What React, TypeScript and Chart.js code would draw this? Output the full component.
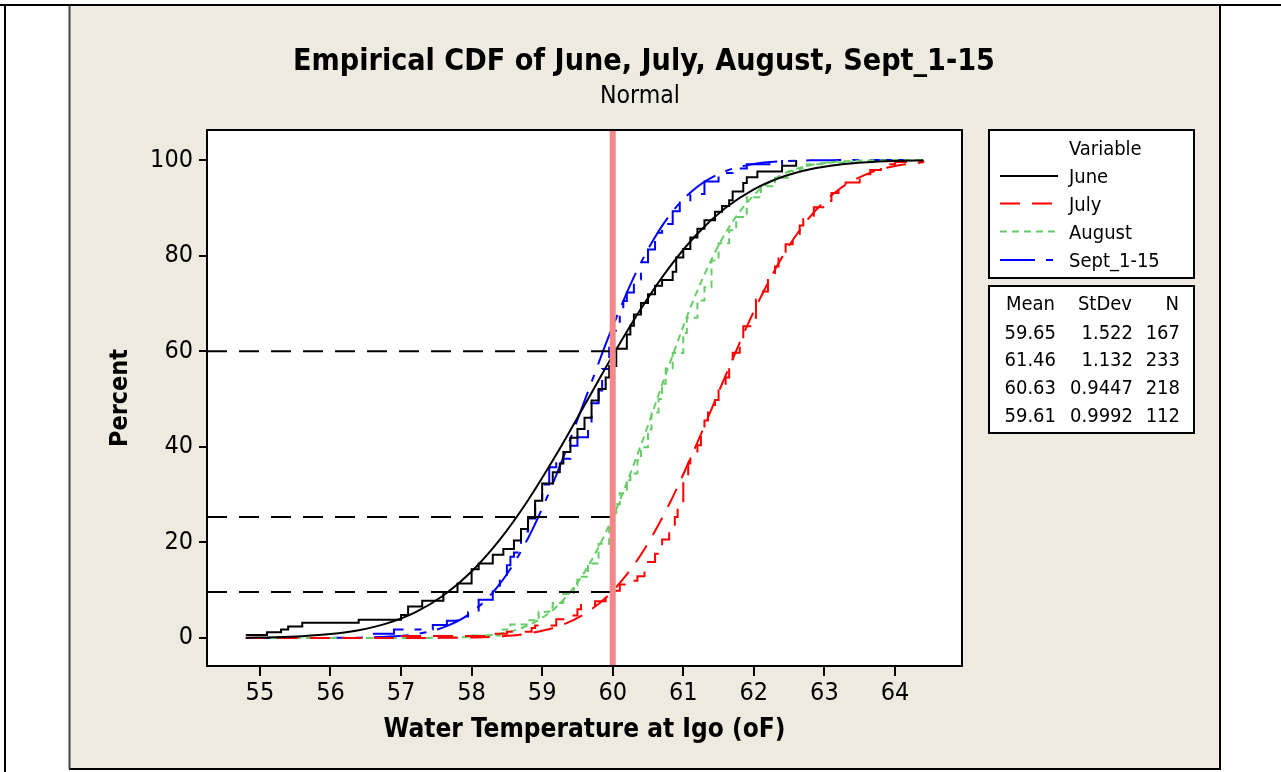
import React, { useEffect, useRef } from "react";
import { Chart, registerables } from "chart.js";

Chart.register(...registerables);

// ---------- data ----------
const xTicks = [55, 56, 57, 58, 59, 60, 61, 62, 63, 64];
const yTicks = [0, 20, 40, 60, 80, 100];
const xMin = 54.25;
const xMax = 64.95;
const yMin = -5.86;
const yMax = 106.28;

const seriesNames = ["June", "July", "August", "Sept_1-15"];
const statMean = ["59.65", "61.46", "60.63", "59.61"];
const statSd = ["1.522", "1.132", "0.9447", "0.9992"];
const statN = ["167", "233", "218", "112"];

// fitted normal CDF, read at these temperatures (percent)
const fitX = [54.8, 55.2, 55.6, 56.0, 56.4, 56.8, 57.2, 57.6, 58.0, 58.4, 58.8, 59.2, 59.6, 60.0, 60.4, 60.8, 61.2, 61.6, 62.0, 62.4, 62.8, 63.2, 63.6, 64.0, 64.4];
const juneFit = [0.07, 0.17, 0.39, 0.82, 1.64, 3.06, 5.37, 8.9, 13.92, 20.58, 28.83, 38.37, 48.69, 59.1, 68.89, 77.5, 84.58, 90.0, 93.87, 96.46, 98.08, 99.02, 99.53, 99.79, 99.91];
const julyFit = [0, 0, 0, 0, 0, 0, 0.01, 0.03, 0.11, 0.34, 0.94, 2.3, 5.02, 9.85, 17.45, 27.99, 40.92, 54.92, 68.33, 79.67, 88.18, 93.79, 97.06, 98.76, 99.53];
const augustFit = [0, 0, 0, 0, 0, 0, 0.01, 0.07, 0.27, 0.91, 2.64, 6.5, 13.78, 25.24, 40.38, 57.14, 72.69, 84.77, 92.65, 96.95, 98.92, 99.67, 99.92, 99.98, 100];
const septFit = [0, 0, 0, 0.02, 0.07, 0.25, 0.79, 2.21, 5.36, 11.3, 20.88, 34.08, 49.6, 65.18, 78.54, 88.32, 94.42, 97.68, 99.16, 99.74, 99.93, 99.98, 100, 100, 100];

// empirical CDF steps: [temperature, cumulative percent]
const juneSteps: [number, number][] = [
  [54.8, 0.6], [55.1, 1.2], [55.3, 1.8], [55.4, 2.4], [55.6, 3.2], [56.4, 3.8], [57.0, 4.8], [57.1, 6.6], [57.3, 7.8],
  [57.6, 9.6], [57.8, 11.4], [58.0, 14.4], [58.1, 15.6], [58.3, 17.4], [58.45, 18.6], [58.6, 20.4], [58.7, 22.8],
  [58.8, 25.1], [58.9, 28.7], [59.0, 32.3], [59.15, 34.7], [59.25, 36.5], [59.3, 38.9], [59.4, 41.9], [59.5, 43.7],
  [59.6, 46.1], [59.7, 49.7], [59.8, 52.1], [59.9, 54.5], [59.95, 56.9], [60.05, 60.5], [60.2, 63.5], [60.25, 65.3],
  [60.3, 67.7], [60.4, 70.1], [60.5, 71.9], [60.6, 73.7], [60.7, 74.9], [60.85, 76.6], [60.9, 79.6], [61.0, 81.4],
  [61.1, 83.8], [61.2, 85.6], [61.3, 87.4], [61.45, 89.2], [61.55, 90.4], [61.65, 91.6], [61.7, 93.4], [61.85, 95.2],
  [61.9, 96.4], [62.05, 97.6], [62.4, 98.8], [62.6, 100],
];
const julySteps: [number, number][] = [
  [57.0, 0.4], [58.25, 0.9], [58.5, 1.3], [58.85, 2.1], [58.9, 2.6], [59.2, 3.9], [59.3, 4.7], [59.5, 6.0], [59.55, 6.9],
  [59.75, 7.7], [59.9, 9.0], [60.0, 9.9], [60.1, 11.2], [60.17, 12.0], [60.35, 12.9], [60.45, 14.2], [60.5, 15.9],
  [60.6, 17.6], [60.7, 20.6], [60.8, 22.3], [60.88, 25.3], [60.92, 28.3], [61.0, 33.5], [61.07, 36.5], [61.1, 38.6],
  [61.2, 40.3], [61.25, 43.3], [61.3, 45.5], [61.35, 47.2], [61.45, 49.8], [61.5, 52.4], [61.6, 54.5], [61.65, 57.1],
  [61.7, 59.7], [61.8, 61.8], [61.85, 65.2], [62.0, 67.0], [62.03, 70.8], [62.13, 72.5], [62.2, 75.5], [62.3, 77.7],
  [62.35, 80.3], [62.45, 82.4], [62.55, 84.5], [62.65, 86.3], [62.7, 88.0], [62.85, 90.1], [63.0, 91.4], [63.1, 93.1],
  [63.2, 94.4], [63.3, 95.3], [63.5, 97.0], [63.65, 97.9], [63.8, 99.1], [64.0, 99.6], [64.4, 100],
];
const augustSteps: [number, number][] = [
  [58.0, 0.5], [58.4, 1.8], [58.55, 2.8], [58.8, 3.7], [58.95, 5.5], [59.1, 6.4], [59.15, 7.3], [59.3, 9.2], [59.45, 11.0],
  [59.5, 12.8], [59.65, 15.6], [59.8, 19.7], [59.95, 23.4], [60.0, 26.1], [60.05, 28.0], [60.1, 30.3], [60.2, 33.0],
  [60.25, 34.4], [60.35, 37.2], [60.4, 39.9], [60.5, 43.6], [60.55, 47.2], [60.65, 50.0], [60.7, 53.2], [60.75, 56.4],
  [60.85, 59.6], [61.0, 63.8], [61.05, 67.0], [61.2, 70.6], [61.3, 73.4], [61.4, 79.0], [61.5, 82.6], [61.65, 85.3],
  [61.75, 88.1], [61.9, 92.2], [62.1, 94.5], [62.3, 96.3], [62.5, 97.7], [62.65, 98.2], [62.75, 99.1], [63.0, 99.5],
  [63.4, 100],
];
const septSteps: [number, number][] = [
  [56.6, 0.9], [56.9, 1.8], [57.45, 2.7], [57.65, 3.6], [57.8, 4.5], [57.95, 5.4], [58.1, 8.0], [58.3, 9.8], [58.4, 12.5],
  [58.5, 15.2], [58.55, 17.0], [58.6, 17.9], [58.7, 22.3], [58.8, 25.0], [58.9, 28.6], [59.0, 32.1], [59.1, 35.7],
  [59.2, 37.5], [59.4, 40.2], [59.5, 42.0], [59.65, 43.8], [59.7, 49.1], [59.8, 51.8], [59.85, 56.3], [59.95, 60.7],
  [60.0, 64.3], [60.1, 67.9], [60.15, 70.5], [60.2, 72.3], [60.3, 75.0], [60.4, 78.6], [60.5, 81.3], [60.6, 84.8],
  [60.7, 86.6], [60.85, 89.3], [60.95, 91.1], [61.1, 92.9], [61.3, 95.5], [61.5, 97.3], [61.7, 98.2], [61.9, 99.1],
  [62.4, 100],
];

const refTemp = 60;
const refLevels = [60, 25.3, 9.6];

// ---------- styles ----------
const W = 1281;
const H = 772;
const FONT = "'DejaVu Sans Condensed', 'DejaVu Sans', sans-serif";
const BEIGE = "#EEEAE0";
const colors = ["#000000", "#FF0000", "#66CC66", "#0000FF"];
const dashes: number[][] = [[], [20, 12], [7, 5], [35, 11, 7, 11]];

const fits = [juneFit, julyFit, augustFit, septFit];
const steps = [juneSteps, julySteps, augustSteps, septSteps];

function capText(ctx: CanvasRenderingContext2D, text: string, x: number, cy: number, align: CanvasTextAlign) {
  const cap = ctx.measureText("H").actualBoundingBoxAscent;
  ctx.textAlign = align;
  ctx.textBaseline = "alphabetic";
  ctx.fillText(text, x, cy + cap / 2);
}

function fitFont(ctx: CanvasRenderingContext2D, text: string, weight: string, width: number) {
  ctx.font = `${weight} 100px ${FONT}`;
  const w = ctx.measureText(text).width;
  const size = (100 * width) / w;
  ctx.font = `${weight} ${size.toFixed(2)}px ${FONT}`;
}

const decorPlugin = {
  id: "decor",
  beforeDraw(chart: any) {
    const ctx: CanvasRenderingContext2D = chart.ctx;
    const a = chart.chartArea;
    ctx.save();
    ctx.fillStyle = "#FFFFFF";
    ctx.fillRect(0, 0, W, H);
    ctx.fillStyle = BEIGE;
    ctx.fillRect(70, 6, 1150, 763);
    ctx.strokeStyle = "#000";
    ctx.lineWidth = 2;
    ctx.beginPath();
    ctx.moveTo(0, 5); ctx.lineTo(W, 5);
    ctx.moveTo(5, 4); ctx.lineTo(5, H);
    ctx.moveTo(1220, 4); ctx.lineTo(1220, 770);
    ctx.moveTo(69, 769); ctx.lineTo(1221, 769);
    ctx.stroke();
    ctx.strokeStyle = "#444";
    ctx.beginPath();
    ctx.moveTo(69.5, 6); ctx.lineTo(69.5, 769);
    ctx.stroke();
    ctx.fillStyle = "#FFFFFF";
    ctx.fillRect(a.left, a.top, a.right - a.left, a.bottom - a.top);
    ctx.restore();
  },
  afterDraw(chart: any) {
    const ctx: CanvasRenderingContext2D = chart.ctx;
    const a = chart.chartArea;
    ctx.save();
    // plot frame
    ctx.strokeStyle = "#000";
    ctx.lineWidth = 2;
    ctx.setLineDash([]);
    ctx.strokeRect(a.left, a.top, a.right - a.left, a.bottom - a.top);

    // titles
    ctx.fillStyle = "#000";
    fitFont(ctx, "Empirical CDF of June, July, August, Sept_1-15", "bold", 702);
    capText(ctx, "Empirical CDF of June, July, August, Sept_1-15", 644, 59, "center");
    fitFont(ctx, "Normal", "normal", 80);
    capText(ctx, "Normal", 640, 94, "center");
    fitFont(ctx, "Water Temperature at Igo (oF)", "bold", 402);
    capText(ctx, "Water Temperature at Igo (oF)", (a.left + a.right) / 2, 727, "center");
    fitFont(ctx, "Percent", "bold", 98);
    ctx.save();
    ctx.translate(118, (a.top + a.bottom) / 2);
    ctx.rotate(-Math.PI / 2);
    capText(ctx, "Percent", 0, 0, "center");
    ctx.restore();

    // legend box
    ctx.fillStyle = "#FFF";
    ctx.fillRect(989, 130, 205, 148);
    ctx.strokeRect(989, 130, 205, 148);
    ctx.fillRect(989, 286, 205, 147);
    ctx.strokeRect(989, 286, 205, 147);
    ctx.fillStyle = "#000";
    ctx.font = `20px ${FONT}`;
    capText(ctx, "Variable", 1069, 148, "left");
    const rows = [176, 203.5, 231.5, 260];
    seriesNames.forEach((name, i) => {
      ctx.strokeStyle = colors[i];
      ctx.setLineDash(dashes[i]);
      ctx.lineWidth = 2;
      ctx.beginPath();
      ctx.moveTo(1000, rows[i]);
      ctx.lineTo(1058, rows[i]);
      ctx.stroke();
      ctx.setLineDash([]);
      ctx.fillStyle = "#000";
      capText(ctx, name, 1069, rows[i], "left");
    });
    // stats
    capText(ctx, "Mean", 1055, 303, "right");
    capText(ctx, "StDev", 1132, 303, "right");
    capText(ctx, "N", 1179, 303, "right");
    const srows = [331.5, 359.3, 386.7, 415];
    statMean.forEach((m, i) => {
      capText(ctx, m, 1056, srows[i], "right");
      capText(ctx, statSd[i], 1133, srows[i], "right");
      capText(ctx, statN[i], 1180, srows[i], "right");
    });
    ctx.restore();
  },
};

function buildDatasets() {
  const ds: any[] = [];
  ds.push({
    data: [{ x: refTemp, y: yMin }, { x: refTemp, y: yMax }],
    borderColor: "#F48888",
    borderWidth: 6,
    pointRadius: 0,
  });
  refLevels.forEach((lv) => {
    ds.push({
      data: [{ x: xMin, y: lv }, { x: refTemp, y: lv }],
      borderColor: "#000",
      borderWidth: 2,
      borderDash: [20, 12],
      pointRadius: 0,
    });
  });
  for (let i = 0; i < 4; i++) {
    ds.push({
      data: fitX.map((x, k) => ({ x, y: fits[i][k] })),
      borderColor: colors[i],
      borderWidth: 2,
      borderDash: dashes[i],
      cubicInterpolationMode: "monotone",
      pointRadius: 0,
    });
    ds.push({
      data: steps[i].map(([x, y]) => ({ x, y })),
      borderColor: colors[i],
      borderWidth: 2,
      borderDash: dashes[i],
      stepped: "before",
      pointRadius: 0,
    });
  }
  return ds;
}

export default function App() {
  const ref = useRef<HTMLCanvasElement>(null);
  useEffect(() => {
    const tickFont = { family: FONT, size: 25 };
    const chart = new Chart(ref.current as HTMLCanvasElement, {
      type: "line",
      data: { datasets: buildDatasets() },
      plugins: [decorPlugin],
      options: {
        animation: false,
        responsive: false,
        events: [],
        layout: { padding: { left: 0, top: 130, right: W - 962, bottom: 0 } },
        plugins: {
          legend: { display: false },
          title: { display: false },
          tooltip: { enabled: false },
        },
        scales: {
          x: {
            type: "linear",
            min: xMin,
            max: xMax,
            afterBuildTicks: (s: any) => {
              s.ticks = xTicks.map((v) => ({ value: v }));
            },
            afterFit: (s: any) => {
              s.height = H - 666;
            },
            grid: { drawOnChartArea: false, drawTicks: true, tickLength: 10, color: "#000", lineWidth: 2 },
            border: { display: false },
            ticks: { font: tickFont, color: "#000", padding: 2, maxRotation: 0, autoSkip: false },
          },
          y: {
            type: "linear",
            min: yMin,
            max: yMax,
            afterBuildTicks: (s: any) => {
              s.ticks = yTicks.map((v) => ({ value: v }));
            },
            afterFit: (s: any) => {
              s.width = 207;
            },
            grid: { drawOnChartArea: false, drawTicks: true, tickLength: 8, color: "#000", lineWidth: 2 },
            border: { display: false },
            ticks: { font: tickFont, color: "#000", padding: 6, autoSkip: false },
          },
        },
      } as any,
    });
    return () => chart.destroy();
  }, []);
  return (
    <div style={{ position: "absolute", left: 0, top: 0, width: W, height: H }}>
      <canvas ref={ref} width={W} height={H} style={{ display: "block" }} />
    </div>
  );
}
